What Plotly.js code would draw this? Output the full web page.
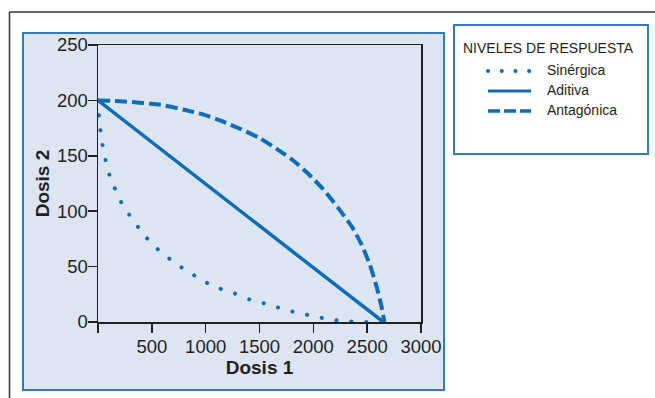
<!DOCTYPE html>
<html>
<head>
<meta charset="utf-8">
<script src="https://cdn.plot.ly/plotly-3.0.1.min.js"></script>
<style>
  html, body { margin: 0; padding: 0; background: #ffffff; }
  #chart { width: 655px; height: 398px; }
</style>
</head>
<body>
<div id="chart"></div>
<script>
// Isobologram: dose combinations of two agents giving the same effect level

// Additive response: straight line between the two single-agent doses
const aditivaDosis1 = [0, 2650];
const aditivaDosis2 = [200, 0];

// Antagonistic response: curve bowing away from the origin
const antagonicaDosis1 = [0, 242, 584, 801, 988, 1158, 1329, 1500, 1655, 1811, 1950, 2090, 2230, 2354, 2447, 2525, 2587, 2634, 2660];
const antagonicaDosis2 = [200, 199, 196, 191.5, 187, 181, 174, 166, 156.5, 146, 134, 120, 103, 86.6, 70, 51.7, 32, 13.7, 0];

// Synergistic response: curve bowing toward the origin
const sinergicaDosis1 = [0, 6, 19, 40, 71, 112, 165, 227, 320, 413, 506, 615, 739, 863, 988, 1127, 1267, 1407, 1547, 1702, 1857, 2012, 2152, 2292, 2447, 2602, 2680];
const sinergicaDosis2 = [200, 190, 176, 161, 146, 131, 118.5, 106, 92.7, 80.5, 70, 60.8, 51.7, 44, 36.5, 30.4, 25.8, 20.4, 16.7, 12.2, 8.2, 5.2, 2.1, 0.9, 0, 0, 0];

// Axis ticks
const xTickVals = [0, 500, 1000, 1500, 2000, 2500, 3000];
const xTickText = ['', '500', '1000', '1500', '2000', '2500', '3000'];
const yTickVals = [0, 50, 100, 150, 200, 250];

// Legend entries
const seriesNames = ['Sinérgica', 'Aditiva', 'Antagónica'];
const legendTitle = 'NIVELES DE RESPUESTA';

const BLUE = '#0f6cb6';
const PANEL_BLUE = '#2a7dc5';
const PANEL_FILL = '#dee5f2';
const INK = '#231f20';
const FONT = 'Liberation Sans, Arial, sans-serif';

// round dots are made from near-zero dashes with round caps
const DOT = '0.1px,14.9px';
const DASH = '12px,5px';

// Plot area in pixels: x 98..421, y 45..322
const L = 98, R = 421, T = 45, B = 322;
const px = v => (v - L) / (R - L);
const py = v => (B - v) / (B - T);

const traces = [
  {
    x: sinergicaDosis1, y: sinergicaDosis2, name: seriesNames[0],
    type: 'scatter', mode: 'lines',
    line: { color: BLUE, width: 4, dash: DOT, shape: 'spline', smoothing: 0.6 }
  },
  {
    x: aditivaDosis1, y: aditivaDosis2, name: seriesNames[1],
    type: 'scatter', mode: 'lines',
    line: { color: BLUE, width: 3.5 }
  },
  {
    x: antagonicaDosis1, y: antagonicaDosis2, name: seriesNames[2],
    type: 'scatter', mode: 'lines',
    line: { color: BLUE, width: 4, dash: DASH, shape: 'spline', smoothing: 0.6 }
  }
];

// Key box samples and labels
const keyRows = [py(71), py(91), py(111)];
const keyDash = ['0.1px,13.6px', 'solid', '12px,4px'];
const keyWidth = [4, 3, 3.5];

const shapes = [
  // outer frame (top and left rules)
  { type: 'line', xref: 'paper', yref: 'paper', x0: px(9.5), x1: px(9.5), y0: py(12), y1: py(400),
    line: { color: '#333333', width: 1.5 }, layer: 'below' },
  { type: 'line', xref: 'paper', yref: 'paper', x0: px(9.5), x1: px(660), y0: py(12), y1: py(12),
    line: { color: '#333333', width: 1.5 }, layer: 'below' },
  // chart panel
  { type: 'rect', xref: 'paper', yref: 'paper', x0: px(23), x1: px(444), y0: py(390), y1: py(33),
    fillcolor: PANEL_FILL, line: { color: PANEL_BLUE, width: 2 }, layer: 'below' },
  // key box
  { type: 'rect', xref: 'paper', yref: 'paper', x0: px(454), x1: px(648), y0: py(154), y1: py(25),
    fillcolor: '#ffffff', line: { color: PANEL_BLUE, width: 2 }, layer: 'below' }
];
keyRows.forEach((yy, i) => {
  shapes.push({ type: 'line', xref: 'paper', yref: 'paper', x0: px(488), x1: px(531), y0: yy, y1: yy,
    line: { color: BLUE, width: keyWidth[i], dash: keyDash[i] } });
});

const annotations = [
  { xref: 'paper', yref: 'paper', x: px(461), y: py(48), xanchor: 'left', yanchor: 'middle',
    text: legendTitle, showarrow: false, font: { family: FONT, size: 14, color: INK } }
];
keyRows.forEach((yy, i) => {
  annotations.push({ xref: 'paper', yref: 'paper', x: px(545), y: yy + 0.004, xanchor: 'left', yanchor: 'middle',
    text: seriesNames[i], showarrow: false, font: { family: FONT, size: 14, color: INK } });
});

const axisCommon = {
  showgrid: false, zeroline: false,
  showline: true, mirror: true, linecolor: INK, linewidth: 1.5,
  ticks: 'outside', ticklen: 9, tickwidth: 1.5, tickcolor: INK,
  fixedrange: true
};

const layout = {
  width: 655, height: 398,
  margin: { l: L, r: 655 - R, t: T, b: 398 - B, pad: 0 },
  paper_bgcolor: '#ffffff',
  plot_bgcolor: 'rgba(0,0,0,0)',
  showlegend: false,
  font: { family: FONT, color: INK },
  xaxis: Object.assign({}, axisCommon, {
    range: [0, 3000], tickmode: 'array', tickvals: xTickVals, ticktext: xTickText,
    tickfont: { family: FONT, size: 18.5, color: INK },
    ticklabelstandoff: -2,
    title: { text: '<b>Dosis 1</b>', font: { family: FONT, size: 19, color: INK }, standoff: 4 }
  }),
  yaxis: Object.assign({}, axisCommon, {
    range: [0, 250], tickmode: 'array', tickvals: yTickVals,
    tickfont: { family: FONT, size: 18.5, color: INK },
    ticklabelstandoff: -4,
    title: { text: '<b>Dosis 2</b>', font: { family: FONT, size: 19, color: INK }, standoff: 2 }
  }),
  shapes: shapes,
  annotations: annotations
};

Plotly.newPlot('chart', traces, layout, { displayModeBar: false, staticPlot: true }).then(gd => {
  // round caps turn the short dashes of the synergy curve and its key sample into dots
  const curve = gd.querySelectorAll('.scatterlayer .trace')[0];
  if (curve) curve.querySelectorAll('path.js-line').forEach(p => { p.style.strokeLinecap = 'round'; });
  const keyDot = gd.querySelectorAll('.layer-above .shapelayer path')[0];
  if (keyDot) keyDot.style.strokeLinecap = 'round';
});
</script>
</body>
</html>
